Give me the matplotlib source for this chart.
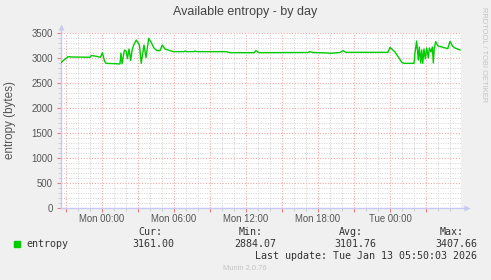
import matplotlib.pyplot as plt
from matplotlib.ticker import FixedLocator, MultipleLocator

# hours relative to Tue 00:00, entropy in bytes
hours = [-27.42, -27.17, -26.83, -26.5, -25.0, -24.88, -24.5, -24.12, -23.97, -23.78,
         -23.67, -22.75, -22.63, -22.5, -22.42, -22.33, -22.13, -22.0, -21.88, -21.75,
         -21.61, -21.5, -21.36, -21.14, -20.88, -20.73, -20.5, -20.33, -20.11, -19.92,
         -19.67, -19.42, -19.17, -18.98, -18.75, -18.33, -18.06, -17.17, -17.08, -16.92,
         -16.33, -16.25, -16.08, -13.61, -13.5, -13.33, -11.33, -11.17, -10.92, -6.83,
         -6.67, -6.42, -5.17, -5.0, -4.17, -3.92, -3.67, -0.17, 0.0, 0.42,
         0.98, 1.17, 2.0, 2.08, 2.22, 2.36, 2.44, 2.56, 2.64, 2.73,
         2.83, 2.94, 3.06, 3.19, 3.28, 3.42, 3.53, 3.61, 3.69, 3.81,
         4.0, 4.42, 4.81, 5.0, 5.22, 5.42, 5.83]
entropy = [2907, 2960, 3027, 3020, 3015, 3050, 3035, 3015, 3107, 2933,
           2893, 2885, 2880, 2885, 3100, 2885, 3160, 3140, 2990, 3180,
           2953, 3150, 3260, 3360, 3260, 2893, 3260, 3010, 3393, 3320,
           3200, 3147, 3147, 3260, 3180, 3147, 3127, 3127, 3140, 3127,
           3127, 3140, 3127, 3127, 3115, 3107, 3107, 3147, 3107, 3110,
           3127, 3110, 3100, 3093, 3110, 3147, 3113, 3113, 3213, 3120,
           2913, 2893, 2893, 3100, 3340, 2960, 3220, 2900, 3160, 2893,
           3180, 2980, 3200, 3000, 3200, 3120, 3220, 2900, 3200, 3327,
           3240, 3213, 3187, 3333, 3233, 3200, 3161]

x_ticks = [-27, -24, -21, -18, -15, -12, -9, -6, -3, 0, 3]
x_labels = ['', 'Mon 00:00', '', 'Mon 06:00', '', 'Mon 12:00', '', 'Mon 18:00', '', 'Tue 00:00', '']

legend_heads = ['Cur:', 'Min:', 'Avg:', 'Max:']
legend_vals = ['3161.00', '2884.07', '3101.76', '3407.66']
last_update = 'Last update: Tue Jan 13 05:50:03 2026'

plt.rcParams['font.family'] = ['Liberation Sans', 'DejaVu Sans']

W, H = 491, 280
fig = plt.figure(figsize=(W / 100, H / 100), dpi=100, facecolor='#f0f0f0')
ax = fig.add_axes([61 / W, 1 - 208 / H, 400 / W, 175 / H])
ax.set_facecolor('white')

ax.set_xlim((61 - 390) / 12, (461 - 390) / 12)
ax.set_ylim(0, 3500)

ax.xaxis.set_major_locator(FixedLocator(x_ticks))
ax.set_xticklabels(x_labels)
ax.xaxis.set_minor_locator(MultipleLocator(1))
ax.yaxis.set_major_locator(MultipleLocator(500))
ax.yaxis.set_minor_locator(MultipleLocator(100))

ax.grid(which='minor', color='#d2d2d2', linestyle=(0, (1, 1.5)), linewidth=0.7)
ax.grid(which='major', color='#f0a8a8', linestyle=(0, (1, 1.5)), linewidth=0.8)
ax.set_axisbelow(True)

ax.tick_params(which='major', length=3, color='#e08080', labelsize=6.9,
               labelcolor='#555555', pad=1.5)
ax.tick_params(which='minor', length=2, color='#c8c8c8')
ax.tick_params(axis='y', which='major', pad=3)

for s in ax.spines.values():
    s.set_visible(False)

axis_col = '#c8c8f4'
ax.plot([0, 1.012], [0, 0], transform=ax.transAxes, clip_on=False, color=axis_col, lw=1)
ax.plot([0, 0], [0, 1.03], transform=ax.transAxes, clip_on=False, color=axis_col, lw=1)
ax.plot([1.015], [0], marker='>', ms=4, transform=ax.transAxes, clip_on=False,
        color=axis_col, mec='none')
ax.plot([0], [1.035], marker='^', ms=4, transform=ax.transAxes, clip_on=False,
        color=axis_col, mec='none')

ax.plot(hours, entropy, color='#00cc00', lw=1.0)

ax.set_ylabel('entropy (bytes)', fontsize=8.4, color='#555555', labelpad=11)

def px(x, y):
    return x / W, 1 - y / H

fig.text(*px(245, 12), 'Available entropy - by day', ha='center', va='center',
         fontsize=9.0, color='#444444')
fig.text(*px(484, 7), 'RRDTOOL / TOBI OETIKER', ha='center', va='top',
         rotation=-90, fontsize=5.4, color='#c4c4c4')

mono = 'DejaVu Sans Mono'
fig.patches.append(plt.Rectangle(px(14, 247), 6 / W, 6 / H, transform=fig.transFigure,
                                 color='#00cc00'))
fig.text(*px(26, 244), 'entropy', family=mono, fontsize=7.2, color='#333333', va='center')
for head, val, xh, xv in zip(legend_heads, legend_vals, [162, 263, 363, 464],
                             [174, 276, 376, 477]):
    fig.text(*px(xh, 232), head, family=mono, fontsize=7.2, color='#333333',
             ha='right', va='center')
    fig.text(*px(xv, 244), val, family=mono, fontsize=7.2, color='#333333',
             ha='right', va='center')
fig.text(*px(477, 256), last_update, family=mono, fontsize=7.2, color='#333333',
         ha='right', va='center')
fig.text(*px(245, 268), 'Munin 2.0.76', ha='center', va='center', fontsize=5.4,
         color='#c4c4c4')

fig.savefig('out.png', dpi=100, facecolor=fig.get_facecolor())
